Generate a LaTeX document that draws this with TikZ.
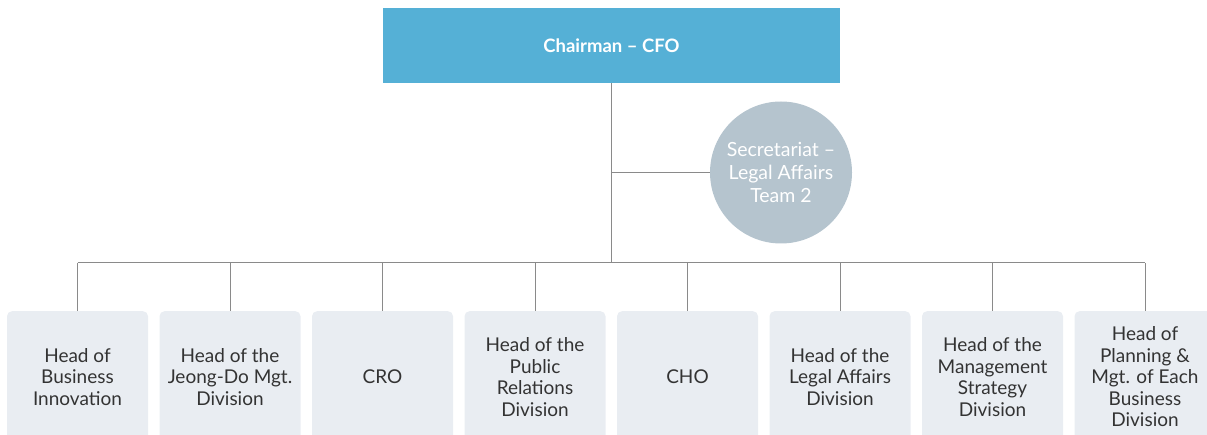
\documentclass[tikz,border=0pt]{standalone}
\usepackage{fontspec}
\setmainfont{Lato}
\definecolor{topblue}{HTML}{55B0D6}
\definecolor{circgray}{HTML}{B5C4CE}
\definecolor{boxgray}{HTML}{E9EDF2}
\definecolor{linegray}{HTML}{8A8A8A}
\definecolor{txt}{HTML}{333333}
\tikzset{
  conn/.style={draw=linegray, line width=1pt},
  headbox/.style={fill=topblue, minimum width=457pt, minimum height=75pt, inner sep=0pt, text=white, font=\fontsize{18.5}{22}\selectfont\bfseries},
  circ/.style={circle, fill=circgray, minimum size=142pt, inner sep=0pt, text=white, align=center, font=\fontsize{19.5}{23}\selectfont},
  unitbox/.style={fill=boxgray, rounded corners=5pt, minimum width=141pt, minimum height=140pt, inner sep=0pt, anchor=north},
  unittext/.style={text=txt, align=center, font=\fontsize{19}{21.5}\selectfont, inner sep=0pt}
}
\begin{document}
\begin{tikzpicture}[x=1pt, y=-1pt]
\useasboundingbox (0,0) rectangle (1207,435);
\clip (0,0) rectangle (1207,435);
\node[headbox] (ceo) at (611.5,45.5) {Chairman – CFO};
\node[circ] (sec) at (781,172.5) {Secretariat –\\Legal Affairs\\Team 2};
\coordinate (bus) at (611,263);
\coordinate (tee) at (611,172.5);
\draw[conn] (ceo.south -| bus) -- (bus);
\draw[conn] (tee) -- (sec.west);
\foreach \i/\name/\label in {
  0/b1/{Head of\\Business\\Innovation},
  1/b2/{Head of the\\Jeong-Do Mgt.\\Division},
  2/b3/{CRO},
  3/b4/{Head of the\\Public\\Relations\\Division},
  4/b5/{CHO},
  5/b6/{Head of the\\Legal Affairs\\Division},
  6/b7/{Head of the\\Management\\Strategy\\Division},
  7/b8/{Head of\\Planning \&\\Mgt. of Each\\Business\\Division}}{
  \node[unitbox] (\name) at ({77.5+152.5*\i},311) {};
  \node[unittext] (\name t) at ({77.5+152.5*\i},377) {\label};
  \coordinate (\name c) at ({77.5+152.5*\i},263);
  \draw[conn] (\name c) -- (\name.north);
}
\draw[conn] (b1c) -- (b8c);
\end{tikzpicture}
\end{document}
